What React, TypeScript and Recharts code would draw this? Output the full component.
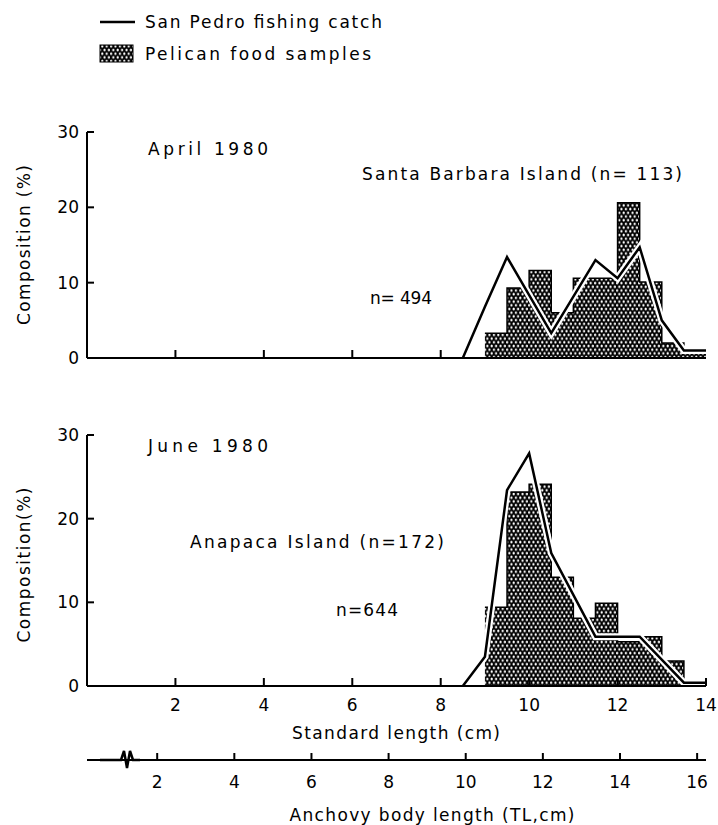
import React from 'react';
import { ComposedChart, Area, Line, XAxis, YAxis } from 'recharts';

// bins are 0.5 cm wide (standard length)
const binStarts = [9.0, 9.5, 10.0, 10.5, 11.0, 11.5, 12.0, 12.5, 13.0, 13.5];
const binEnd = 14.0;

// Pelican food samples (%)
const aprilPelican = [3.3, 9.3, 11.6, 6.0, 10.6, 10.6, 20.6, 10.1, 2.0, 1.0];
const junePelican = [9.4, 23.2, 24.1, 13.0, 8.1, 9.9, 5.3, 5.9, 3.0, 0.4];

// San Pedro fishing catch (%)
const aprilCatchLength = [8.5, 9.0, 9.5, 10.5, 11.5, 12.0, 12.5, 13.0, 13.5, 14.0];
const aprilCatch = [0, 6.8, 13.4, 3.3, 13.0, 10.6, 14.7, 5.0, 1.0, 1.0];
const juneCatchLength = [8.5, 9.0, 9.5, 10.0, 10.5, 11.5, 12.5, 13.5, 14.0];
const juneCatch = [0, 3.5, 23.4, 27.8, 15.9, 5.9, 5.9, 0.4, 0.4];

const slTicks = [2, 4, 6, 8, 10, 12, 14];
const tlTicks = [2, 4, 6, 8, 10, 12, 14, 16];
const yTicks = [0, 10, 20, 30];

const FONT = '"DejaVu Sans", sans-serif';
const INK = '#000';

function buildRows(pelican: number[], catchX: number[], catchV: number[]) {
  const xs = Array.from(new Set([...binStarts, binEnd, ...catchX])).sort((a, b) => a - b);
  return xs.map((x) => {
    const b = binStarts.indexOf(x);
    const c = catchX.indexOf(x);
    return {
      x,
      pelican: b >= 0 ? pelican[b] : x === binEnd ? pelican[pelican.length - 1] : null,
      catch: c >= 0 ? catchV[c] : null,
    };
  });
}

const aprilRows = buildRows(aprilPelican, aprilCatchLength, aprilCatch);
const juneRows = buildRows(junePelican, juneCatchLength, juneCatch);

const Dots = ({ id }: { id: string }) => (
  <defs>
    <pattern id={id} width="4.4" height="7.4" patternUnits="userSpaceOnUse">
      <rect width="4.4" height="7.4" fill={INK} />
      <ellipse cx="1.1" cy="1.85" rx="1.1" ry="1.4" fill="#fff" />
      <ellipse cx="3.3" cy="5.55" rx="1.1" ry="1.4" fill="#fff" />
    </pattern>
  </defs>
);

const T = ({ x, y, w, anchor, children }: any) => (
  <text
    x={x}
    y={y}
    textLength={w}
    lengthAdjust="spacing"
    textAnchor={anchor || 'start'}
    fontFamily={FONT}
    fontSize={17}
    fill={INK}
  >
    {children}
  </text>
);

const YTitle = ({ cy, w, children }: any) => (
  <text
    x={30}
    y={cy}
    transform={`rotate(-90 30 ${cy})`}
    textAnchor="middle"
    textLength={w}
    lengthAdjust="spacing"
    fontFamily={FONT}
    fontSize={17}
    fill={INK}
  >
    {children}
  </text>
);

const axisStroke = { stroke: INK, strokeWidth: 2 };
const tickFont = { fill: INK, fontSize: 17, fontFamily: FONT };

const series = (fillId: string) => [
  <Area
    key="a"
    type="stepAfter"
    dataKey="pelican"
    xAxisId="sl"
    fill={`url(#${fillId})`}
    fillOpacity={1}
    stroke={INK}
    strokeWidth={1.5}
    connectNulls
    dot={false}
    activeDot={false}
    isAnimationActive={false}
  />,
  <Line
    key="h"
    type="linear"
    dataKey="catch"
    xAxisId="sl"
    stroke="#fff"
    strokeWidth={7}
    connectNulls
    dot={false}
    activeDot={false}
    isAnimationActive={false}
  />,
  <Line
    key="l"
    type="linear"
    dataKey="catch"
    xAxisId="sl"
    stroke={INK}
    strokeWidth={2.5}
    connectNulls
    dot={false}
    activeDot={false}
    isAnimationActive={false}
  />,
];

export default function App() {
  return (
    <div style={{ position: 'absolute', left: 0, top: 0, width: 718, height: 825, background: '#fff' }}>
      <div style={{ position: 'absolute', left: 0, top: 0 }}>
        <ComposedChart width={718} height={370} data={aprilRows} margin={{ top: 132, right: 12, bottom: 0, left: 0 }}>
          <Dots id="dotsA" />
          <XAxis
            xAxisId="sl"
            dataKey="x"
            type="number"
            domain={[0, 14]}
            ticks={[2, 4, 6, 8]}
            height={12}
            tickSize={-8}
            tick={() => <g />}
            axisLine={axisStroke}
            tickLine={axisStroke}
          />
          <YAxis
            type="number"
            domain={[0, 30]}
            ticks={yTicks}
            interval={0}
            width={87}
            tickSize={-7}
            tickMargin={15}
            tick={tickFont}
            axisLine={axisStroke}
            tickLine={axisStroke}
          />
          {series('dotsA')}

          {/* legend */}
          <line x1={100} y1={22} x2={135} y2={22} stroke={INK} strokeWidth={2.5} />
          <T x={145} y={28} w={237}>San Pedro fishing catch</T>
          <rect x={100} y={45} width={33} height={17} fill="url(#dotsA)" stroke={INK} strokeWidth={1} />
          <T x={145} y={60} w={226}>Pelican food samples</T>

          <YTitle cy={245} w={160}>Composition (%)</YTitle>
          <T x={148} y={155} w={120}>April 1980</T>
          <T x={362} y={180} w={320}>Santa Barbara Island (n= 113)</T>
          <T x={370} y={304} w={62}>n= 494</T>
        </ComposedChart>
      </div>

      <div style={{ position: 'absolute', left: 0, top: 370 }}>
        <ComposedChart width={718} height={455} data={juneRows} margin={{ top: 65, right: 12, bottom: 0, left: 0 }}>
          <Dots id="dotsJ" />
          <XAxis
            xAxisId="sl"
            dataKey="x"
            type="number"
            domain={[0, 14]}
            ticks={slTicks}
            interval={0}
            height={74}
            tickSize={-8}
            tickMargin={21}
            tick={tickFont}
            axisLine={axisStroke}
            tickLine={axisStroke}
          />
          <XAxis
            xAxisId="tl"
            dataKey="x"
            type="number"
            domain={[0.18, 16.23]}
            allowDataOverflow
            ticks={tlTicks}
            interval={0}
            height={65}
            tickSize={-7}
            tickMargin={23}
            tick={tickFont}
            axisLine={axisStroke}
            tickLine={axisStroke}
          />
          <YAxis
            type="number"
            domain={[0, 30]}
            ticks={yTicks}
            interval={0}
            width={87}
            tickSize={-7}
            tickMargin={15}
            tick={tickFont}
            axisLine={axisStroke}
            tickLine={axisStroke}
          />
          {series('dotsJ')}

          <rect x={86} y={385} width={14} height={10} fill="#fff" />
          <path d="M100,390 L121,390 L124,381 L127,398 L130,381 L133,390 L140,390" fill="none" stroke={INK} strokeWidth={2.5} />
          <YTitle cy={195} w={155}>Composition(%)</YTitle>
          <T x={148} y={82} w={120}>June 1980</T>
          <T x={190} y={178} w={254}>Anapaca Island (n=172)</T>
          <T x={336} y={246} w={62}>n=644</T>
          <T x={396} y={369} w={208} anchor="middle">Standard length (cm)</T>
          <T x={432} y={451} w={285} anchor="middle">Anchovy body length (TL,cm)</T>
        </ComposedChart>
      </div>
    </div>
  );
}
